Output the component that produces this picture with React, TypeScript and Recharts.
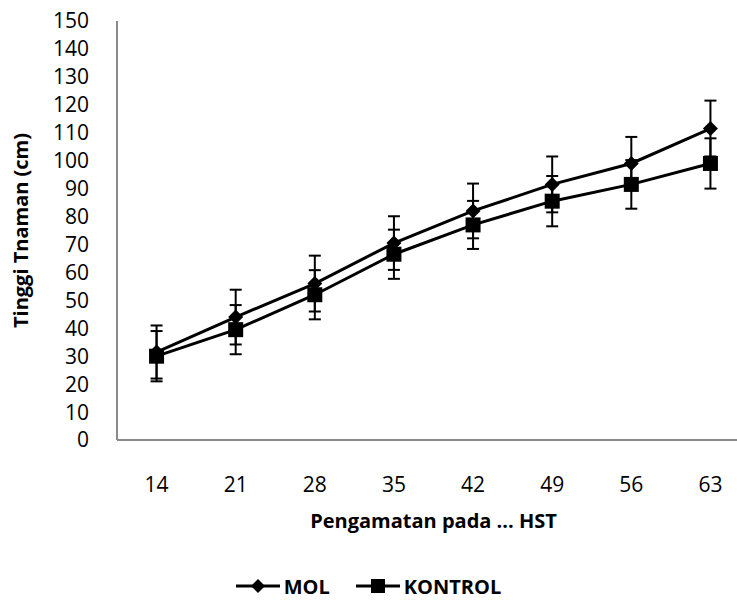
import React from 'react';
import { LineChart, Line, XAxis, YAxis, ErrorBar, Legend, Label } from 'recharts';

const categories = ['14', '21', '28', '35', '42', '49', '56', '63'];
const molValues = [31.5, 44, 56, 70.5, 82, 91.5, 99, 111.5];
const molErrors = [9.5, 9.8, 10, 9.6, 9.8, 10, 9.5, 10];
const kontrolValues = [30, 39.5, 52, 66.5, 77, 85.5, 91.5, 99];
const kontrolErrors = [9, 8.8, 8.8, 8.8, 8.6, 9, 8.7, 9];
const yTicks = [0, 10, 20, 30, 40, 50, 60, 70, 80, 90, 100, 110, 120, 130, 140, 150];
const seriesOrder = ['mol', 'kontrol'];

const data = categories.map((c, i) => ({
  hst: c,
  mol: molValues[i],
  molErr: molErrors[i],
  kontrol: kontrolValues[i],
  kontrolErr: kontrolErrors[i],
}));

const FONT = '"Open Sans", "DejaVu Sans", sans-serif';

const Diamond = (props: any) => {
  const { cx, cy, index } = props;
  if (cx == null || cy == null) return <g key={`d${index}`} />;
  const r = 7.5;
  return (
    <path
      key={`d${index}`}
      d={`M${cx},${cy - r} L${cx + r},${cy} L${cx},${cy + r} L${cx - r},${cy} Z`}
      fill="#000"
    />
  );
};

const Square = (props: any) => {
  const { cx, cy, index } = props;
  if (cx == null || cy == null) return <g key={`s${index}`} />;
  const r = 7.5;
  return <rect key={`s${index}`} x={cx - r} y={cy - r} width={2 * r} height={2 * r} fill="#000" />;
};

const LegendIcon = ({ kind }: { kind: string }) => (
  <svg width={44} height={20} style={{ marginRight: 4 }}>
    <line x1={0} y1={10} x2={44} y2={10} stroke="#000" strokeWidth={3} />
    {kind === 'mol' ? (
      <path d="M22,3 L29,10 L22,17 L15,10 Z" fill="#000" />
    ) : (
      <rect x={15} y={3} width={14} height={14} fill="#000" />
    )}
  </svg>
);

const renderLegend = (props: any) => {
  const payload = [...(props.payload || [])].sort(
    (a: any, b: any) => seriesOrder.indexOf(a.dataKey) - seriesOrder.indexOf(b.dataKey)
  );
  return (
    <div
      style={{
        width: 737,
        height: 56,
        boxSizing: 'border-box',
        paddingTop: 12,
        display: 'flex',
        justifyContent: 'center',
        alignItems: 'center',
        fontFamily: FONT,
        fontWeight: 700,
        fontSize: 20,
        color: '#000',
      }}
    >
      {payload.map((p: any, i: number) => (
        <div key={i} style={{ display: 'flex', alignItems: 'center', marginRight: i === 0 ? 26 : 0 }}>
          <LegendIcon kind={p.dataKey} />
          <span>{p.value}</span>
        </div>
      ))}
    </div>
  );
};

const XTitle = (props: any) => {
  const vb = props.viewBox || {};
  return (
    <text
      x={vb.x + vb.width / 2}
      y={vb.y + 88}
      textAnchor="middle"
      fontFamily={FONT}
      fontWeight={700}
      fontSize={20}
      fill="#000"
    >
      Pengamatan pada ... HST
    </text>
  );
};

const YTitle = (props: any) => {
  const vb = props.viewBox || {};
  const cx = 20;
  const cy = vb.y + vb.height / 2;
  return (
    <text
      x={cx}
      y={cy}
      transform={`rotate(-90, ${cx}, ${cy})`}
      textAnchor="middle"
      dominantBaseline="central"
      fontFamily={FONT}
      fontWeight={700}
      fontSize={20}
      fill="#000"
    >
      Tinggi Tnaman (cm)
    </text>
  );
};

export default function App() {
  return (
    <div
      style={{
        position: 'absolute',
        left: 0,
        top: 0,
        width: 737,
        height: 608,
        overflow: 'hidden',
        background: '#ffffff',
      }}
    >
      <LineChart
        width={760}
        height={608}
        data={data}
        margin={{ top: 21, right: 10, left: 0, bottom: 0 }}
      >
        <XAxis
          dataKey="hst"
          type="category"
          scale="band"
          interval={0}
          axisLine={{ stroke: '#8a8a8a', strokeWidth: 2 }}
          tickLine={false}
          tickSize={0}
          tickMargin={37}
          height={112}
          tick={{ fill: '#000', fontSize: 21, fontFamily: FONT }}
        >
          <Label content={<XTitle />} />
        </XAxis>
        <YAxis
          domain={[0, 150]}
          ticks={yTicks}
          interval={0}
          width={117}
          axisLine={{ stroke: '#8a8a8a', strokeWidth: 2 }}
          tickLine={false}
          tickSize={0}
          tickMargin={28}
          tick={{ fill: '#000', fontSize: 21, fontFamily: FONT }}
        >
          <Label content={<YTitle />} />
        </YAxis>
        <Legend verticalAlign="bottom" content={renderLegend} wrapperStyle={{ left: 0, width: 737 }} />
        <Line
          type="linear"
          dataKey="mol"
          name="MOL"
          stroke="#000"
          strokeWidth={3}
          dot={Diamond}
          activeDot={false}
          isAnimationActive={false}
        >
          <ErrorBar dataKey="molErr" direction="y" width={6} stroke="#000" strokeWidth={2} isAnimationActive={false} />
        </Line>
        <Line
          type="linear"
          dataKey="kontrol"
          name="KONTROL"
          stroke="#000"
          strokeWidth={3}
          dot={Square}
          activeDot={false}
          isAnimationActive={false}
        >
          <ErrorBar dataKey="kontrolErr" direction="y" width={6} stroke="#000" strokeWidth={2} isAnimationActive={false} />
        </Line>
      </LineChart>
    </div>
  );
}
